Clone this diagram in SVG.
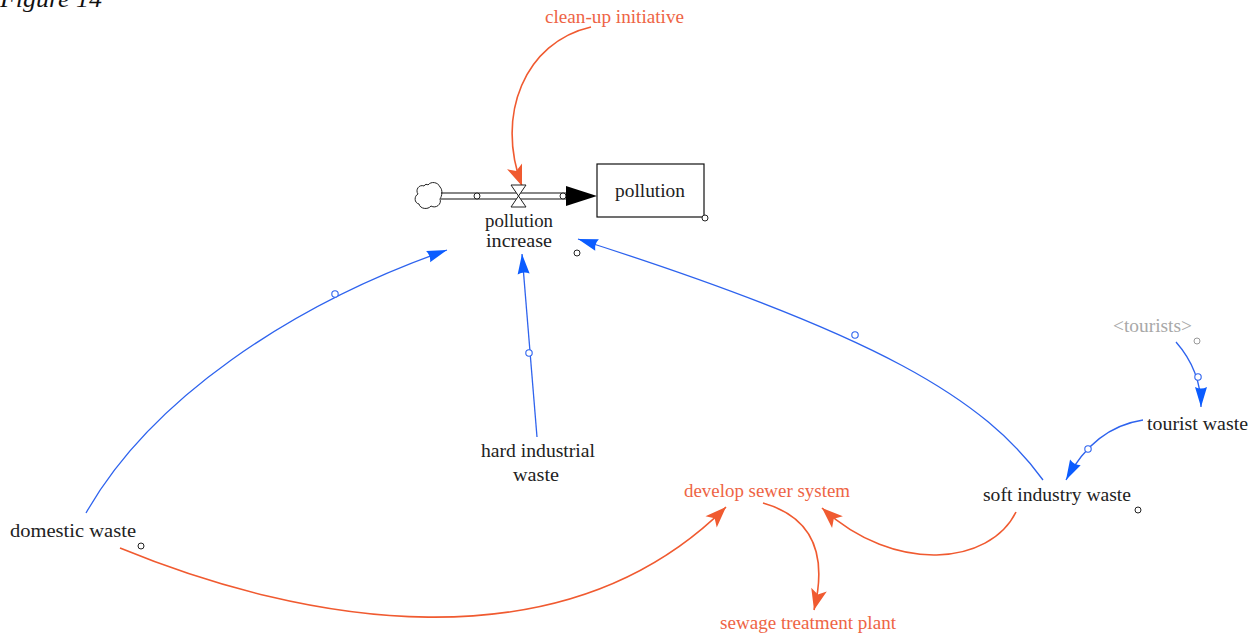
<svg xmlns="http://www.w3.org/2000/svg" width="1260" height="635" viewBox="0 0 1260 635">
  <style>
    text { font-family: "Liberation Serif", "Times New Roman", serif; font-size: 19px; fill: #222; }
    .red { fill: #ee6445; }
    .grey { fill: #a8a8a8; }
    .fig { font-style: italic; font-size: 24px; fill: #111; }
    .link { fill: none; stroke: #2e63ee; stroke-width: 1.3; }
    .orange { fill: none; stroke: #f05a30; stroke-width: 1.6; }
    .dot { fill: #fff; stroke: #2e63ee; stroke-width: 1.1; }
    .pin { fill: #fff; stroke: #222; stroke-width: 1; }
    .pipe { stroke: #111; stroke-width: 1.2; fill: none; }
  </style>
  <defs>
    <marker id="arrowBlue" markerUnits="userSpaceOnUse" markerWidth="30" markerHeight="30" orient="auto" overflow="visible">
      <path d="M0,0 L-20,-6 Q-17,0 -20,6 Z" fill="#0b5cff"/>
    </marker>
    <marker id="arrowOrange" markerUnits="userSpaceOnUse" markerWidth="30" markerHeight="30" orient="auto" overflow="visible">
      <path d="M0,0 L-21,-8 L-16,0 L-21,8 Z" fill="#f05a30"/>
    </marker>
  </defs>

  <text class="fig" x="0" y="7" textLength="102" lengthAdjust="spacingAndGlyphs">Figure 14</text>

  <!-- connectors -->
  <g id="connectors">
    <path class="orange" d="M591,27 C525,42 495,115 522,186" marker-end="url(#arrowOrange)"/>
    <path class="link" d="M86,513 C150,400 290,305 447,250" marker-end="url(#arrowBlue)"/>
    <circle class="dot" cx="335" cy="294" r="3.2"/>
    <path class="link" d="M537,437 L522,254" marker-end="url(#arrowBlue)"/>
    <circle class="dot" cx="529" cy="353" r="3.2"/>
    <path class="link" d="M1043,480 C985,400 880,335 578,239" marker-end="url(#arrowBlue)"/>
    <circle class="dot" cx="855" cy="335" r="3.2"/>
    <path class="link" d="M1176,342 C1190,358 1201,380 1201,407" marker-end="url(#arrowBlue)"/>
    <circle class="dot" cx="1198" cy="377" r="3.2"/>
    <path class="link" d="M1143,420 C1110,425 1084,446 1066,480" marker-end="url(#arrowBlue)"/>
    <circle class="dot" cx="1088" cy="449" r="3.2"/>
    <path class="orange" d="M120,548 C300,622 560,672 726,507" marker-end="url(#arrowOrange)"/>
    <path class="orange" d="M1016,512 C990,565 895,575 822,508" marker-end="url(#arrowOrange)"/>
    <path class="orange" d="M763,503 C805,515 830,545 814,610" marker-end="url(#arrowOrange)"/>
  </g>

  <!-- flow: pollution increase -->
  <g id="flow-pollution-increase">
    <path d="M428,185 C431,181 438,182 440,187 C443,190 442,196 440,199 C442,204 436,209 431,206 C428,210 420,209 419,204 C414,203 414,196 418,194 C415,190 419,184 424,186 C425,184 427,184 428,185 Z" fill="#fff" stroke="#222" stroke-width="1"/>
    <line class="pipe" x1="441" y1="193" x2="569" y2="193"/>
    <line class="pipe" x1="441" y1="199" x2="569" y2="199"/>
    <circle class="pin" cx="477" cy="196" r="3"/>
    <circle class="pin" cx="563" cy="196" r="3"/>
    <path d="M511,185 L526,185 L518.5,196 L526,207 L511,207 L518.5,196 Z" fill="#fff" stroke="#222" stroke-width="1"/>
    <path d="M566,186 L597,196 L566,206 Z" fill="#000"/>
    <text x="485" y="227" textLength="68" lengthAdjust="spacingAndGlyphs">pollution</text>
    <text x="486" y="247" textLength="66" lengthAdjust="spacingAndGlyphs">increase</text>
    <circle class="pin" cx="577" cy="253" r="3"/>
  </g>

  <!-- stock: pollution -->
  <g id="stock-pollution">
    <rect x="597" y="164" width="107" height="53" fill="#fff" stroke="#111" stroke-width="1.2"/>
    <text x="615" y="197" textLength="70" lengthAdjust="spacingAndGlyphs">pollution</text>
    <circle class="pin" cx="705" cy="218" r="3"/>
  </g>

  <g id="clean-up-initiative">
    <text class="red" x="545" y="23" textLength="139" lengthAdjust="spacingAndGlyphs">clean-up initiative</text>
  </g>

  <g id="hard-industrial-waste">
    <text x="481" y="457" textLength="114" lengthAdjust="spacingAndGlyphs">hard industrial</text>
    <text x="513" y="481" textLength="46" lengthAdjust="spacingAndGlyphs">waste</text>
  </g>

  <g id="domestic-waste">
    <text x="10" y="537" textLength="126" lengthAdjust="spacingAndGlyphs">domestic waste</text>
    <circle class="pin" cx="141" cy="546" r="3"/>
  </g>

  <g id="soft-industry-waste">
    <text x="983" y="501" textLength="148" lengthAdjust="spacingAndGlyphs">soft industry waste</text>
    <circle class="pin" cx="1138" cy="510" r="3"/>
  </g>

  <g id="tourists">
    <text class="grey" x="1113" y="332" textLength="79" lengthAdjust="spacingAndGlyphs">&lt;tourists&gt;</text>
    <circle cx="1197" cy="341" r="3" fill="#fff" stroke="#999" stroke-width="1"/>
  </g>

  <g id="tourist-waste">
    <text x="1147" y="430" textLength="101" lengthAdjust="spacingAndGlyphs">tourist waste</text>
  </g>

  <g id="develop-sewer-system">
    <text class="red" x="684" y="497" textLength="166" lengthAdjust="spacingAndGlyphs">develop sewer system</text>
  </g>

  <g id="sewage-treatment-plant">
    <text class="red" x="720" y="629" textLength="176" lengthAdjust="spacingAndGlyphs">sewage treatment plant</text>
  </g>
</svg>
